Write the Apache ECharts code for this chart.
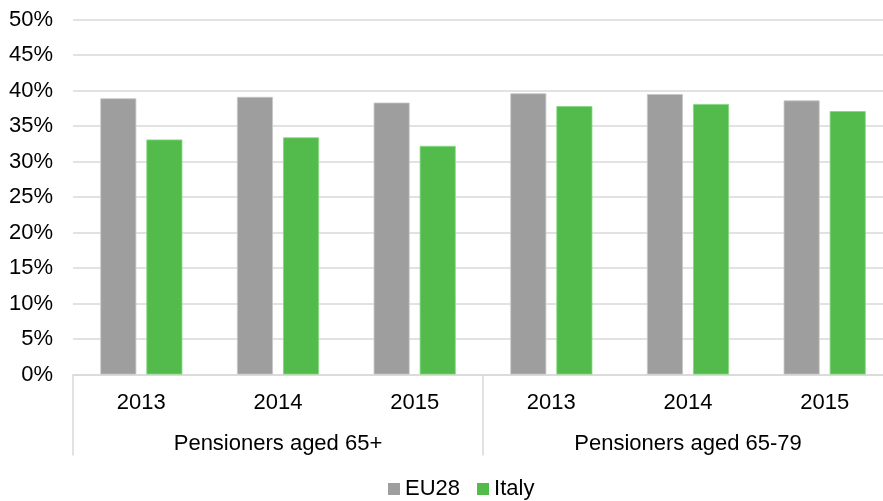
<!DOCTYPE html>
<html>
<head>
<meta charset="utf-8">
<script src="https://cdn.jsdelivr.net/npm/echarts@6/dist/echarts.min.js"></script>
<style>html,body{margin:0;padding:0;background:#fff;overflow:hidden;width:883px;height:501px}#c{width:893px;height:501px}</style>
</head>
<body>
<div id="c"></div>
<script>
const years = ['2013', '2014', '2015', '2013', '2014', '2015'];
const groups = ['Pensioners aged 65+', 'Pensioners aged 65-79'];
const eu28 = [38.9, 39.1, 38.3, 39.6, 39.5, 38.6];
const italy = [33.1, 33.4, 32.2, 37.8, 38.1, 37.1];
const seriesNames = ['EU28', 'Italy'];

const FONT = 'Liberation Sans, Arial, sans-serif';
const chart = echarts.init(document.getElementById('c'), null, {renderer: 'canvas'});
chart.setOption({
  animation: false,
  textStyle: {fontFamily: FONT},
  grid: {left: 73, right: 0, top: 19.5, bottom: 126.5, containLabel: false},
  legend: {
    left: 383, top: 473, padding: 5,
    itemWidth: 12, itemHeight: 12, itemGap: 17,
    icon: 'rect',
    itemStyle: {borderWidth: 0},
    textStyle: {fontSize: 22, color: '#000', fontFamily: FONT},
    data: seriesNames
  },
  xAxis: [
    {
      type: 'category', data: years, position: 'bottom',
      axisLine: {show: true, lineStyle: {color: '#d9d9d9', width: 1.5}},
      axisTick: {show: false},
      axisLabel: {fontSize: 22, color: '#000', margin: 17, fontFamily: FONT}
    },
    {
      type: 'category', data: groups, position: 'bottom',
      axisLine: {show: false},
      axisTick: {show: true, length: 81, lineStyle: {color: '#d9d9d9', width: 1.5}},
      axisLabel: {fontSize: 22, color: '#000', margin: 58, fontFamily: FONT}
    }
  ],
  yAxis: {
    type: 'value', min: 0, max: 50, interval: 5,
    axisLine: {show: false}, axisTick: {show: false},
    splitLine: {lineStyle: {color: '#d9d9d9', width: 1.5}},
    axisLabel: {fontSize: 22, color: '#000', margin: 20, formatter: '{value}%', fontFamily: FONT}
  },
  series: [
    {
      name: seriesNames[0], type: 'bar', data: eu28, xAxisIndex: 0,
      barWidth: 36, barGap: '28%',
      itemStyle: {color: '#9e9e9e', borderColor: '#c8c8c8', borderWidth: 0.8}
    },
    {
      name: seriesNames[1], type: 'bar', data: italy, xAxisIndex: 0,
      barWidth: 36,
      itemStyle: {color: '#52bb4b', borderColor: '#86d880', borderWidth: 0.8}
    }
  ]
});
</script>
</body>
</html>
